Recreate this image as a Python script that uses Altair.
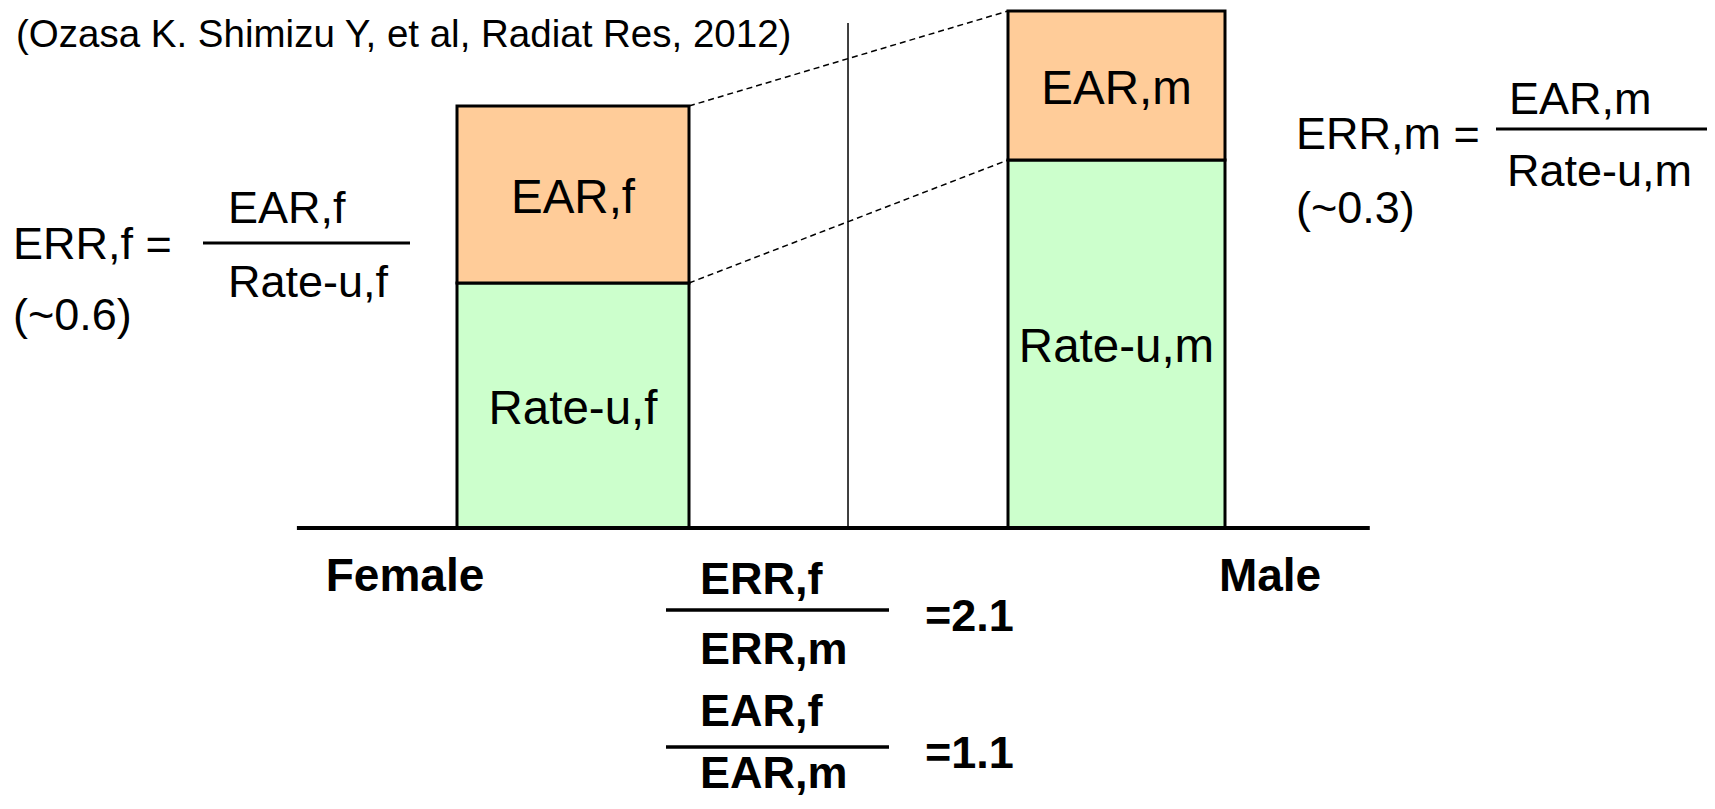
import altair as alt
import pandas as pd

# ---------------- data ----------------
sexes = ["Female", "Male"]
rate_u = [245, 368]            # background rate, unexposed (relative units)
ear = [177, 149]               # excess absolute rate (relative units)
rate_labels = ["Rate-u,f", "Rate-u,m"]
ear_labels = ["EAR,f", "EAR,m"]
citation = "(Ozasa K. Shimizu Y, et al, Radiat Res, 2012)"
err_lhs = ["ERR,f =", "ERR,m ="]
err_values = ["(~0.6)", "(~0.3)"]
ratio_num = ["ERR,f", "EAR,f"]
ratio_den = ["ERR,m", "EAR,m"]
ratio_values = ["=2.1", "=1.1"]

# ---------------- layout / style ----------------
W, H = 1699, 793
X0_PX, STEP_PX = 565.0, 543.5       # chart px of category 0 and px per category
BASE_PX = 520.0                     # chart px of the baseline (value 0)
x_dom = [-X0_PX / STEP_PX, (W - X0_PX) / STEP_PX]
y_dom = [BASE_PX - H, BASE_PX]
BAR_HALF = {"Female": 116 / STEP_PX, "Male": 108.5 / STEP_PX}
FONT = "Liberation Sans"
C_EAR, C_RATE = "#FFCC99", "#CCFFCC"


def xu(px):
    return (px - X0_PX) / STEP_PX


def yu(py):
    return BASE_PX - py


xs = alt.Scale(domain=x_dom, nice=False, zero=False)
ys = alt.Scale(domain=y_dom, nice=False, zero=False)

# bars (stacked by hand: Rate-u at the bottom, EAR on top)
rows = []
for i, s in enumerate(sexes):
    h = BAR_HALF[s]
    rows.append(dict(sex=s, part="Rate-u", x0=i - h, x1=i + h, y0=0, y1=rate_u[i],
                     label=rate_labels[i]))
    rows.append(dict(sex=s, part="EAR", x0=i - h, x1=i + h, y0=rate_u[i],
                     y1=rate_u[i] + ear[i], label=ear_labels[i]))
bars_df = pd.DataFrame(rows)
bars_df["xm"] = (bars_df["x0"] + bars_df["x1"]) / 2
bars_df["ym"] = (bars_df["y0"] + bars_df["y1"]) / 2 - 4

bars = alt.Chart(bars_df).mark_bar(stroke="black", strokeWidth=3).encode(
    x=alt.X("x0:Q", scale=xs, axis=None),
    x2="x1:Q",
    y=alt.Y("y0:Q", scale=ys, axis=None),
    y2="y1:Q",
    color=alt.Color("part:N", scale=alt.Scale(domain=["EAR", "Rate-u"], range=[C_EAR, C_RATE]),
                    legend=None),
)

bar_text = alt.Chart(bars_df).mark_text(font=FONT, fontSize=47.5, align="center",
                                         baseline="middle", color="black").encode(
    x=alt.X("xm:Q", scale=xs), y=alt.Y("ym:Q", scale=ys), text="label:N")

# dashed connectors between the bar corners
conn_df = pd.DataFrame({
    "x": [0 + BAR_HALF["Female"]] * 2,
    "x2": [1 - BAR_HALF["Male"]] * 2,
    "y": [rate_u[0] + ear[0], rate_u[0]],
    "y2": [rate_u[1] + ear[1], rate_u[1]],
})
connectors = alt.Chart(conn_df).mark_rule(color="black", strokeWidth=1.5,
                                          strokeDash=[6, 4]).encode(
    x=alt.X("x:Q", scale=xs), x2="x2:Q", y=alt.Y("y:Q", scale=ys), y2="y2:Q")

# baseline, divider, fraction bars
lines_df = pd.DataFrame([
    dict(x=-0.508, x2=1.466, y=0, y2=0, w=4),          # baseline
    dict(x=0.506, x2=0.506, y=0, y2=yu(15), w=1.5),     # divider
    dict(x=xu(195), x2=xu(402), y=yu(235), y2=yu(235), w=3),
    dict(x=xu(1488), x2=xu(1720), y=yu(121), y2=yu(121), w=3),
    dict(x=xu(658), x2=xu(881), y=yu(602), y2=yu(602), w=3.5),
    dict(x=xu(658), x2=xu(881), y=yu(739), y2=yu(739), w=3.5),
])
lines = alt.Chart(lines_df).mark_rule(color="black").encode(
    x=alt.X("x:Q", scale=xs), x2="x2:Q", y=alt.Y("y:Q", scale=ys), y2="y2:Q",
    strokeWidth=alt.StrokeWidth("w:Q", scale=None, legend=None))

# annotations
cit_df = pd.DataFrame([dict(t=citation, x=xu(8), y=yu(27))])
cit = alt.Chart(cit_df).mark_text(font=FONT, fontSize=38.5, align="left", baseline="middle",
                                   color="black").encode(
    x=alt.X("x:Q", scale=xs), y=alt.Y("y:Q", scale=ys), text="t:N")

form_df = pd.DataFrame([
    dict(t=err_lhs[0], x=xu(5), y=yu(237)),
    dict(t=ear_labels[0], x=xu(220), y=yu(201)),
    dict(t=rate_labels[0], x=xu(220), y=yu(275)),
    dict(t=err_values[0], x=xu(5), y=yu(308)),
    dict(t=err_lhs[1], x=xu(1288), y=yu(127)),
    dict(t=ear_labels[1], x=xu(1501), y=yu(92)),
    dict(t=rate_labels[1], x=xu(1499), y=yu(164)),
    dict(t=err_values[1], x=xu(1288), y=yu(201)),
])
form = alt.Chart(form_df).mark_text(font=FONT, fontSize=45, align="left", baseline="middle",
                                    color="black").encode(
    x=alt.X("x:Q", scale=xs), y=alt.Y("y:Q", scale=ys), text="t:N")

sex_df = pd.DataFrame([
    dict(t=sexes[0], x=xu(397), y=yu(569)),
    dict(t=sexes[1], x=xu(1262), y=yu(569)),
])
sex_text = alt.Chart(sex_df).mark_text(font=FONT, fontSize=46, fontWeight="bold",
                                       align="center", baseline="middle",
                                       color="black").encode(
    x=alt.X("x:Q", scale=xs), y=alt.Y("y:Q", scale=ys), text="t:N")

ratio_df = pd.DataFrame([
    dict(t=ratio_num[0], x=xu(692), y=yu(572)),
    dict(t=ratio_den[0], x=xu(692), y=yu(642)),
    dict(t=ratio_values[0], x=xu(917), y=yu(609)),
    dict(t=ratio_num[1], x=xu(692), y=yu(704)),
    dict(t=ratio_den[1], x=xu(692), y=yu(766)),
    dict(t=ratio_values[1], x=xu(917), y=yu(746)),
])
ratio_text = alt.Chart(ratio_df).mark_text(font=FONT, fontSize=45, fontWeight="bold",
                                           align="left", baseline="middle",
                                           color="black").encode(
    x=alt.X("x:Q", scale=xs), y=alt.Y("y:Q", scale=ys), text="t:N")

chart = alt.layer(
    bars, connectors, lines, bar_text, cit, form, sex_text, ratio_text
).properties(
    width=W, height=H, autosize=alt.AutoSizeParams(type="none"), padding=0,
    background="white",
).configure_view(stroke=None)

chart.save("out.html", embed_options={"renderer": "svg", "actions": False})
